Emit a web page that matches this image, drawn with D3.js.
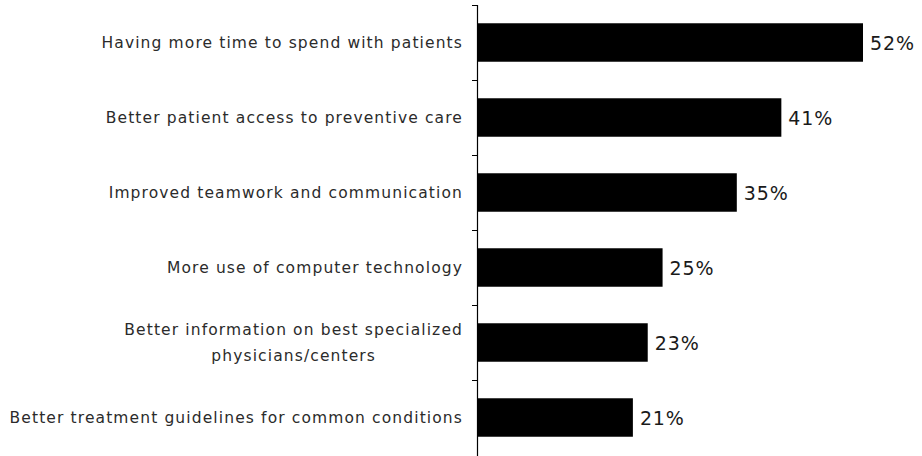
<!DOCTYPE html>
<html><head><meta charset="utf-8">
<script src="https://cdn.jsdelivr.net/npm/d3@7"></script>
<style>body{margin:0;background:#fff}svg{display:block}</style>
</head><body><svg id="c" width="922" height="456"></svg>
<script>
const categories = [
  ["Having more time to spend with patients"],
  ["Better patient access to preventive care"],
  ["Improved teamwork and communication"],
  ["More use of computer technology"],
  ["Better information on best specialized", "physicians/centers"],
  ["Better treatment guidelines for common conditions"]
];
const values = [52, 41, 35, 25, 23, 21];
const valueLabels = ["52%", "41%", "35%", "25%", "23%", "21%"];

const svg = d3.select("#c");
const x0 = 477;
const x = d3.scaleLinear().domain([0, 52]).range([x0, 863]);
const y = d3.scaleBand().domain(d3.range(categories.length)).range([5, 455]).paddingInner(0.487).paddingOuter(0.2435);
const yAxisScale = d3.scaleBand().domain(d3.range(categories.length)).range([5, 455]);

// bars
svg.selectAll("rect.bar").data(values).join("rect")
  .attr("x", x0).attr("y", (d, i) => y(i))
  .attr("width", d => x(d) - x0).attr("height", y.bandwidth())
  .attr("fill", "#000");

// axis line and ticks
svg.append("line").attr("x1", x0 + 0.5).attr("x2", x0 + 0.5).attr("y1", 5).attr("y2", 456)
  .attr("stroke", "#000").attr("stroke-width", 1.2);
const tickYs = d3.range(categories.length).map(i => yAxisScale(i));
svg.selectAll("line.tick").data(tickYs).join("line")
  .attr("x1", x0 - 5).attr("x2", x0).attr("y1", d => d + 0.5).attr("y2", d => d + 0.5)
  .attr("stroke", "#000").attr("stroke-width", 1);

// category labels
const font = "'DejaVu Sans', Verdana, sans-serif";
const fs = 15.5, ls = 1.12;
function lab(t) {
  return t.attr("font-family", font).attr("font-size", fs).attr("letter-spacing", ls)
    .attr("fill", "#2b2b2b");
}
categories.forEach((lines, i) => {
  const cy = yAxisScale(i) + yAxisScale.bandwidth() / 2;
  if (lines.length === 1) {
    lab(svg.append("text")).attr("x", 463).attr("y", cy).attr("dy", "0.36em")
      .attr("text-anchor", "end").text(lines[0]);
  } else {
    const t1 = lab(svg.append("text")).attr("x", 463).attr("y", cy - 12.8).attr("dy", "0.36em")
      .attr("text-anchor", "end").text(lines[0]);
    const w = t1.node().getComputedTextLength();
    lab(svg.append("text")).attr("x", 463 - w / 2).attr("y", cy + 12.8).attr("dy", "0.36em")
      .attr("text-anchor", "middle").text(lines[1]);
  }
});

// value labels
svg.selectAll("text.val").data(values).join("text")
  .attr("x", d => x(d) + 7).attr("y", (d, i) => y(i) + y.bandwidth() / 2).attr("dy", "0.37em")
  .attr("font-family", font).attr("font-size", 19).attr("letter-spacing", 0.9).attr("fill", "#1a1a1a")
  .text((d, i) => valueLabels[i]);
</script></body></html>
